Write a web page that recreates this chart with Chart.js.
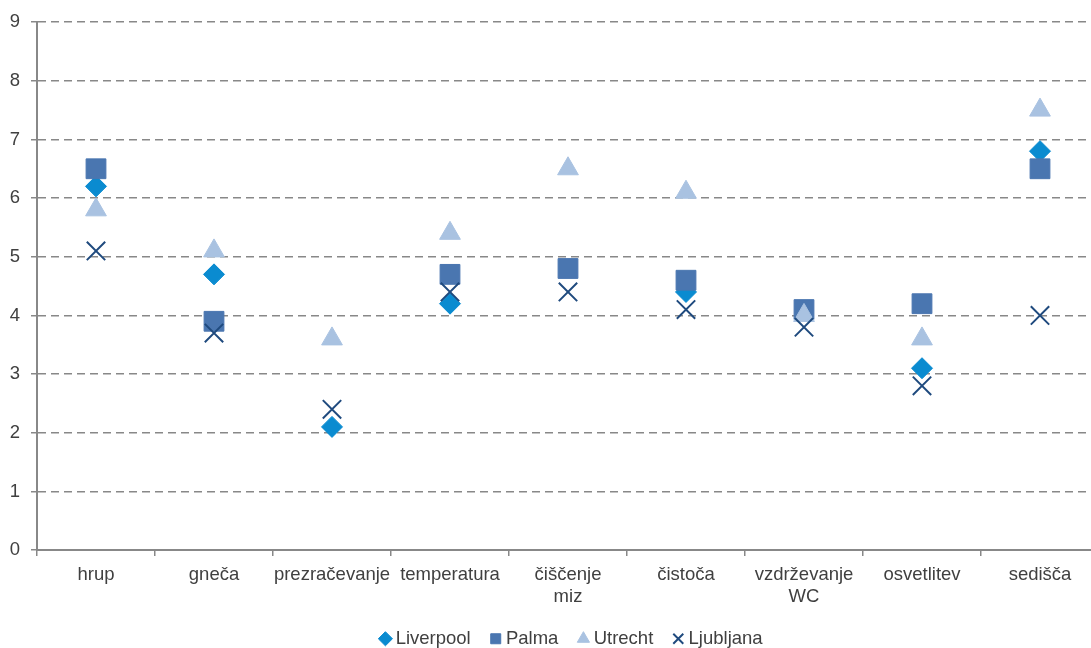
<!doctype html>
<html>
<head>
  <meta charset="utf-8">
  <title>Ocene</title>
  <script src="https://cdn.jsdelivr.net/npm/chart.js@4.4.1/dist/chart.umd.min.js"></script>
  <style>
    html, body { margin: 0; padding: 0; overflow: hidden; background: #fff; }
    #wrap { width: 1100px; height: 648px; }
  </style>
</head>
<body>
  <div id="wrap"><canvas id="myChart" width="1100" height="648"></canvas></div>

  <script>
    // kategorije in ocene po mestih
    var kategorije = ['hrup', 'gneča', 'prezračevanje', 'temperatura', ['čiščenje', 'miz'], 'čistoča', ['vzdrževanje', 'WC'], 'osvetlitev', 'sedišča'];
    var liverpool = [6.2, 4.7, 2.1, 4.2, null, 4.4, null, 3.1, 6.8];
    var palma     = [6.5, 3.9, null, 4.7, 4.8, 4.6, 4.1, 4.2, 6.5];
    var utrecht   = [5.8, 5.1, 3.6, 5.4, 6.5, 6.1, 4.0, 3.6, 7.5];
    var ljubljana = [5.1, 3.7, 2.4, 4.4, 4.4, 4.1, 3.8, 2.8, 4.0];
    var yTicks = [0, 1, 2, 3, 4, 5, 6, 7, 8, 9];

    var siva = '#888888';
    var pisava = { family: "'Liberation Sans', Arial, sans-serif", size: 18.5 };

    function serija(label, data, color, style, radius, order) {
      return {
        label: label,
        data: data,
        showLine: false,
        pointStyle: style,
        pointRadius: radius,
        pointHoverRadius: radius,
        pointBackgroundColor: color,
        pointBorderColor: color,
        pointBorderWidth: style === 'crossRot' ? 2 : 1,
        backgroundColor: color,
        borderColor: color,
        borderWidth: style === 'crossRot' ? 2 : 1,
        order: order
      };
    }

    // legenda je visoka zaradi paddinga, zato jo potisnemo nazaj gor
    var zamikLegende = {
      id: 'zamikLegende',
      afterLayout: function (chart) {
        chart.legend.left += 24;
        chart.legend.right += 24;
        chart.legend.top -= 11;
        chart.legend.bottom -= 11;
      }
    };

    var ctx = document.getElementById('myChart').getContext('2d');
    var chart = new Chart(ctx, {
      type: 'line',
      data: {
        labels: kategorije,
        datasets: [
          serija('Liverpool', liverpool, '#0a8bd0', 'rectRot', 10.5, 4),
          serija('Palma', palma, '#4a76b0', 'rect', 14, 3),
          serija('Utrecht', utrecht, '#a9c2e1', 'triangle', 12, 2),
          serija('Ljubljana', ljubljana, '#1f4a7e', 'crossRot', 13, 1)
        ]
      },
      plugins: [zamikLegende],
      options: {
        responsive: false,
        animation: false,
        layout: { autoPadding: false, padding: { top: 21, right: 1, left: 0, bottom: -21 } },
        plugins: {
          tooltip: { enabled: false },
          legend: {
            position: 'bottom',
            labels: {
              usePointStyle: true,
              boxWidth: 2,
              boxHeight: 10,
              padding: 24,
              color: '#404040',
              font: pisava,
              sort: function (a, b) { return a.datasetIndex - b.datasetIndex; }
            }
          }
        },
        scales: {
          x: {
            offset: true,
            grid: { offset: true, drawOnChartArea: false, color: siva, lineWidth: 1.5, tickLength: 6 },
            border: { color: siva, width: 2 },
            ticks: { color: '#404040', font: pisava, padding: 8, maxRotation: 0, autoSkip: false }
          },
          y: {
            min: 0,
            max: 9,
            afterFit: function (scale) { scale.width = 37; },
            afterBuildTicks: function (scale) {
              scale.ticks = yTicks.map(function (v) { return { value: v }; });
            },
            grid: { color: siva, lineWidth: 1.5, tickLength: 6 },
            border: { color: siva, width: 2, dash: [8, 5] },
            ticks: { color: '#404040', font: pisava, padding: 11 }
          }
        }
      }
    });
  </script>
</body>
</html>
